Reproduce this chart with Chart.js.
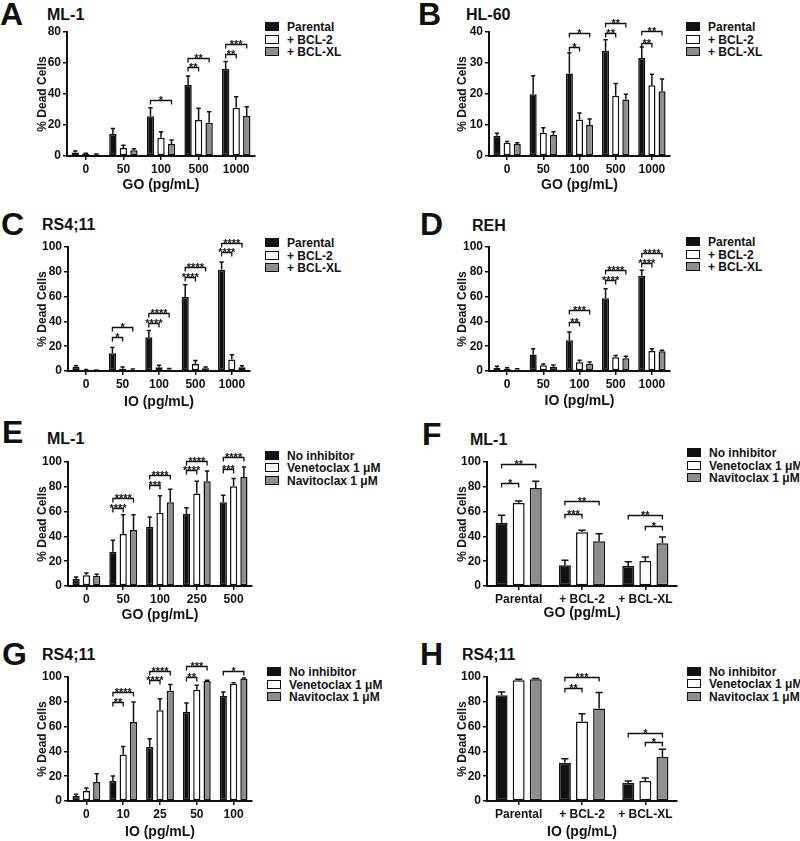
<!DOCTYPE html>
<html>
<head>
<meta charset="utf-8">
<script src="https://cdn.jsdelivr.net/npm/chart.js@4.4.0/dist/chart.umd.min.js"></script>
<style>
body { margin: 0; width: 800px; height: 841px; background: #fff; position: relative; overflow: hidden;
       font-family: "Liberation Sans", Arial, sans-serif; color: #111; }
.txt { position: absolute; white-space: nowrap; line-height: 1; font-weight: bold; }
.letter { font-size: 32px; }
.title { font-size: 16px; }
.leg { font-size: 12px; }
.sw { position: absolute; width: 12px; height: 7px; border: 1.5px solid #111; }
canvas { position: absolute; }
</style>
</head>
<body>
<script>
// =========================
// Data
// =========================

const goDoses = ["0", "50", "100", "500", "1000"];
const ioDoses = ["0", "50", "100", "500", "1000"];
const goDosesE = ["0", "50", "100", "250", "500"];
const ioDosesG = ["0", "10", "25", "50", "100"];
const cellLines = ["Parental", "+ BCL-2", "+ BCL-XL"];

const bclSeries = ["Parental", "+ BCL-2", "+ BCL-XL"];
const drugSeries = ["No inhibitor", "Venetoclax 1 μM", "Navitoclax 1 μM"];

// significance: [group, from bar, to bar, label, bracket level (%)]

// A - ML-1, GO
const aMean = [
    [2.2, 14.2, 25.6, 45.8, 56.1],
    [1.3, 5.2, 11.8, 23.2, 31.2],
    [0.9, 3.7, 7.7, 21.5, 25.8]
];
const aErr = [
    [1.0, 3.6, 5.6, 5.8, 4.8],
    [0.4, 1.7, 3.9, 7.6, 7.1],
    [0.4, 1.0, 2.6, 7.1, 6.0]
];
const aSig = [
    [2, 0, 2, "*", 36],
    [3, 0, 1, "**", 57.6], [3, 0, 2, "**", 63],
    [4, 0, 1, "**", 65.8], [4, 0, 2, "***", 72.3]
];

// B - HL-60, GO
const bMean = [
    [6.5, 19.9, 26.6, 33.9, 31.6],
    [4.3, 7.5, 11.8, 19.4, 22.8],
    [3.9, 6.8, 10.0, 18.2, 20.9]
];
const bErr = [
    [0.8, 6.0, 6.7, 3.6, 3.6],
    [0.4, 1.6, 2.1, 4.0, 3.6],
    [0.4, 1.0, 1.9, 1.7, 3.9]
];
const bSig = [
    [2, 0, 1, "*", 35.1], [2, 0, 2, "*", 39.8],
    [3, 0, 1, "**", 39.7], [3, 0, 2, "**", 43],
    [4, 0, 1, "**", 36.4], [4, 0, 2, "**", 40.2]
];

// C - RS4;11, IO
const cMean = [
    [3.5, 14.3, 27.2, 59.6, 81.7],
    [0.8, 1.9, 3.0, 5.7, 9.2],
    [0.5, 1.1, 1.3, 2.2, 3.0]
];
const cErr = [
    [0.8, 4.6, 5.4, 9.9, 6.2],
    [0.4, 1.3, 1.6, 2.7, 4.0],
    [0.3, 0.5, 0.7, 1.1, 1.3]
];
const cSig = [
    [1, 0, 1, "*", 27.7], [1, 0, 2, "*", 35.8],
    [2, 0, 1, "****", 39], [2, 0, 2, "****", 46.6],
    [3, 0, 1, "****", 76.2], [3, 0, 2, "****", 83.8],
    [4, 0, 1, "****", 96], [4, 0, 2, "****", 103.2]
];

// D - REH, IO
const dMean = [
    [2.7, 13.4, 24.7, 58.6, 76.9],
    [1.9, 4.6, 7.0, 11.0, 16.1],
    [1.3, 3.2, 5.9, 10.2, 15.9]
];
const dErr = [
    [1.1, 4.6, 6.8, 7.8, 4.3],
    [0.8, 1.0, 1.6, 1.4, 1.9],
    [0.6, 1.6, 1.4, 1.6, 0.8]
];
const dSig = [
    [2, 0, 1, "**", 39.5], [2, 0, 2, "***", 49.5],
    [3, 0, 1, "****", 73.1], [3, 0, 2, "****", 81.8],
    [4, 0, 1, "****", 87.1], [4, 0, 2, "****", 95.5]
];

// E - ML-1, GO + inhibitors
const eMean = [
    [5.6, 27.7, 47.6, 58.3, 67.5],
    [8.6, 41.9, 59.1, 74.5, 80.4],
    [8.3, 45.2, 67.5, 84.4, 87.9]
];
const eErr = [
    [1.7, 9.1, 8.0, 4.9, 5.6],
    [1.9, 15.6, 13.7, 9.9, 6.2],
    [1.1, 12.3, 10.5, 8.3, 8.1]
];
const eSig = [
    [1, 0, 1, "****", 63.2], [1, 0, 2, "****", 71],
    [2, 0, 1, "***", 81.2], [2, 0, 2, "****", 89.3],
    [3, 0, 1, "****", 93.3], [3, 0, 2, "****", 100.8],
    [4, 0, 1, "***", 94.7], [4, 0, 2, "****", 104]
];

// F - ML-1 lines, GO + inhibitors
const fMean = [
    [51.1, 16.7, 16.1],
    [66.9, 43.3, 20.2],
    [79.0, 36.0, 34.4]
];
const fErr = [
    [5.9, 4.0, 3.5],
    [1.6, 1.6, 3.2],
    [5.4, 6.2, 5.1]
];
const fSig = [
    [0, 0, 1, "*", 83.4], [0, 0, 2, "**", 98.7],
    [1, 0, 1, "***", 58.4], [1, 0, 2, "**", 68.5],
    [2, 1, 2, "*", 48.1], [2, 0, 2, "**", 57]
];

// G - RS4;11, IO + inhibitors
const gMean = [
    [4.0, 16.1, 43.5, 71.8, 84.7],
    [8.1, 37.6, 73.1, 89.8, 94.6],
    [15.3, 63.7, 89.0, 96.8, 98.7]
];
const gErr = [
    [1.4, 4.1, 6.8, 7.2, 3.2],
    [2.4, 6.4, 9.4, 3.5, 0.8],
    [6.7, 16.1, 5.0, 0.5, 0.5]
];
const gSig = [
    [1, 0, 1, "**", 79.8], [1, 0, 2, "****", 87.9],
    [2, 0, 1, "****", 97.3], [2, 0, 2, "****", 104.6],
    [3, 0, 1, "**", 100], [3, 0, 2, "***", 108.6],
    [4, 0, 2, "*", 104.8]
];

// H - RS4;11 lines, IO + inhibitors
const hMean = [
    [85.2, 30.9, 14.5],
    [97.3, 64.2, 16.1],
    [98.1, 74.5, 35.5]
];
const hErr = [
    [2.7, 3.2, 1.6],
    [0.8, 6.2, 2.4],
    [0.6, 12.9, 6.2]
];
const hSig = [
    [1, 0, 1, "**", 91.4], [1, 0, 2, "***", 100],
    [2, 1, 2, "*", 47.6], [2, 0, 2, "*", 55.2]
];

// =========================
// Style
// =========================

const ink = "#111111";
const fills = ["#111111", "#ffffff", "#8e8e8e"];
const fontFamily = "'Liberation Sans', Arial, sans-serif";

Chart.defaults.font.family = fontFamily;
Chart.defaults.color = ink;

// =========================
// Error bars + brackets
// =========================

const errorBars = {
    id: "errorBars",
    afterDatasetsDraw(chart, args, opts) {
        const ctx = chart.ctx;
        const y = chart.scales.y;
        ctx.save();
        ctx.strokeStyle = ink;
        ctx.lineWidth = 1.5;
        chart.data.datasets.forEach((ds, i) => {
            chart.getDatasetMeta(i).data.forEach((bar, j) => {
                const top = y.getPixelForValue(ds.data[j] + opts.errs[i][j]);
                const half = bar.width * 0.3;
                ctx.beginPath();
                ctx.moveTo(bar.x, bar.y);
                ctx.lineTo(bar.x, top);
                ctx.moveTo(bar.x - half, top);
                ctx.lineTo(bar.x + half, top);
                ctx.stroke();
            });
        });
        ctx.restore();
    }
};

const sigBrackets = {
    id: "sigBrackets",
    afterDatasetsDraw(chart, args, opts) {
        const ctx = chart.ctx;
        const y = chart.scales.y;
        ctx.save();
        ctx.strokeStyle = ink;
        ctx.fillStyle = ink;
        ctx.lineWidth = 1.3;
        ctx.font = "bold 11px " + fontFamily;
        ctx.textAlign = "center";
        ctx.textBaseline = "alphabetic";
        opts.sig.forEach(([g, a, b, label, level]) => {
            const xa = chart.getDatasetMeta(a).data[g].x;
            const xb = chart.getDatasetMeta(b).data[g].x;
            const yy = Math.round(y.getPixelForValue(level)) + 0.5;
            ctx.beginPath();
            ctx.moveTo(xa, yy + 4);
            ctx.lineTo(xa, yy);
            ctx.lineTo(xb, yy);
            ctx.lineTo(xb, yy + 4);
            ctx.stroke();
            ctx.fillText(label, (xa + xb) / 2, yy + 3);
        });
        ctx.restore();
    }
};

// =========================
// Panel builder
// =========================

function addText(cls, text, x, top) {
    const el = document.createElement("div");
    el.className = "txt " + cls;
    el.textContent = text;
    el.style.left = x + "px";
    el.style.top = top + "px";
    document.body.appendChild(el);
}

function makePanel(p) {

    // letter and cell line title
    addText("letter", p.letter, p.letterPos[0], p.letterPos[1] - 27.1);
    addText("title", p.title, p.titlePos[0], p.titlePos[1] - 13.5);

    // legend
    p.names.forEach((n, i) => {
        const rowY = p.legend[1] + i * 12.5;
        const sw = document.createElement("div");
        sw.className = "sw";
        sw.style.left = p.legend[0] + "px";
        sw.style.top = (rowY - 5) + "px";
        sw.style.background = fills[i];
        document.body.appendChild(sw);
        addText("leg", n, p.legend[0] + 22, rowY - 5.9);
    });

    // chart
    const L = Math.round(p.area[0]);
    const T = Math.round(p.area[1]);
    const R = Math.round(p.area[2]);
    const B = Math.round(p.area[3]);
    const yw = p.yDx + 7.2;
    const xh = p.xDy + 8.4;

    const cv = document.createElement("canvas");
    cv.width = R - L + 44;
    cv.height = B - T + 40 + Math.ceil(xh);
    cv.style.left = (L - 40) + "px";
    cv.style.top = (T - 40) + "px";
    document.body.appendChild(cv);

    new Chart(cv, {
        type: "bar",
        data: {
            labels: p.labels,
            datasets: p.names.map((n, i) => ({
                label: n,
                data: p.means[i],
                backgroundColor: fills[i],
                borderColor: ink,
                borderWidth: 1.5,
                borderSkipped: false,
                categoryPercentage: p.cat,
                barPercentage: 0.7
            }))
        },
        options: {
            responsive: false,
            animation: false,
            layout: {
                padding: { left: 40 - yw, top: 40, right: 4, bottom: Math.ceil(xh) - xh }
            },
            plugins: {
                legend: { display: false },
                tooltip: { enabled: false },
                errorBars: { errs: p.errs },
                sigBrackets: { sig: p.sig }
            },
            scales: {
                x: {
                    offset: true,
                    afterFit: s => { s.height = xh; },
                    grid: {
                        display: true, drawOnChartArea: false, drawTicks: true,
                        tickLength: 4, offset: false, color: ink, lineWidth: 1.5
                    },
                    border: { display: true, color: ink, width: 2 },
                    ticks: { color: ink, padding: 2, font: { size: 12, weight: "bold" } },
                    title: {
                        display: true, text: p.xTitle, color: ink, padding: 0,
                        font: { size: 14, weight: "bold" }
                    }
                },
                y: {
                    min: 0,
                    max: p.yMax,
                    afterFit: s => { s.width = yw; },
                    grid: {
                        display: true, drawOnChartArea: false, drawTicks: true,
                        tickLength: 4, color: ink, lineWidth: 1.5
                    },
                    border: { display: true, color: ink, width: 2 },
                    ticks: {
                        stepSize: p.yStep, color: ink, padding: 2,
                        font: { size: 12, weight: "bold" }
                    },
                    title: {
                        display: true, text: "% Dead Cells", color: ink, padding: 0,
                        font: { size: 12, weight: "bold" }
                    }
                }
            }
        },
        plugins: [errorBars, sigBrackets]
    });
}

// =========================
// Panels
// =========================

makePanel({
    letter: "A", letterPos: [0, 25], title: "ML-1", titlePos: [47, 20],
    area: [66.7, 32.3, 254.5, 156], xDy: 29, yDx: 24, legend: [265, 27],
    labels: goDoses, names: bclSeries, means: aMean, errs: aErr, sig: aSig,
    yMax: 80, yStep: 20, xTitle: "GO (pg/mL)", cat: 0.84
});

makePanel({
    letter: "B", letterPos: [418, 25], title: "HL-60", titlePos: [466, 20],
    area: [489.3, 31.7, 670, 156], xDy: 29, yDx: 26, legend: [686, 27],
    labels: goDoses, names: bclSeries, means: bMean, errs: bErr, sig: bSig,
    yMax: 40, yStep: 10, xTitle: "GO (pg/mL)", cat: 0.84
});

makePanel({
    letter: "C", letterPos: [1, 235], title: "RS4;11", titlePos: [42, 230],
    area: [68.3, 247.3, 250, 371], xDy: 30.7, yDx: 25.6, legend: [265, 243.3],
    labels: ioDoses, names: bclSeries, means: cMean, errs: cErr, sig: cSig,
    yMax: 100, yStep: 20, xTitle: "IO (pg/mL)", cat: 0.84
});

makePanel({
    letter: "D", letterPos: [420, 235], title: "REH", titlePos: [472, 231.7],
    area: [489.3, 246.7, 670, 370.7], xDy: 30, yDx: 26, legend: [686, 242.3],
    labels: ioDoses, names: bclSeries, means: dMean, errs: dErr, sig: dSig,
    yMax: 100, yStep: 20, xTitle: "IO (pg/mL)", cat: 0.84
});

makePanel({
    letter: "E", letterPos: [2, 442.7], title: "ML-1", titlePos: [47, 444],
    area: [68.3, 461.7, 251.7, 585.7], xDy: 29.3, yDx: 25.6, legend: [265, 455.7],
    labels: goDosesE, names: drugSeries, means: eMean, errs: eErr, sig: eSig,
    yMax: 100, yStep: 20, xTitle: "GO (pg/mL)", cat: 0.84
});

makePanel({
    letter: "F", letterPos: [422, 445], title: "ML-1", titlePos: [470, 445],
    area: [487.3, 461.7, 676.7, 585.7], xDy: 27.6, yDx: 24, legend: [687, 453.3],
    labels: cellLines, names: drugSeries, means: fMean, errs: fErr, sig: fSig,
    yMax: 100, yStep: 20, xTitle: "GO (pg/mL)", cat: 0.81
});

makePanel({
    letter: "G", letterPos: [2, 665], title: "RS4;11", titlePos: [42, 660.7],
    area: [68.3, 676.7, 251.7, 800.7], xDy: 31, yDx: 25.6, legend: [267, 672.3],
    labels: ioDosesG, names: drugSeries, means: gMean, errs: gErr, sig: gSig,
    yMax: 100, yStep: 20, xTitle: "IO (pg/mL)", cat: 0.84
});

makePanel({
    letter: "H", letterPos: [420, 665], title: "RS4;11", titlePos: [462, 660.7],
    area: [487.3, 676.7, 676.7, 800.7], xDy: 31, yDx: 24, legend: [687, 671.7],
    labels: cellLines, names: drugSeries, means: hMean, errs: hErr, sig: hSig,
    yMax: 100, yStep: 20, xTitle: "IO (pg/mL)", cat: 0.81
});
</script>
</body>
</html>
